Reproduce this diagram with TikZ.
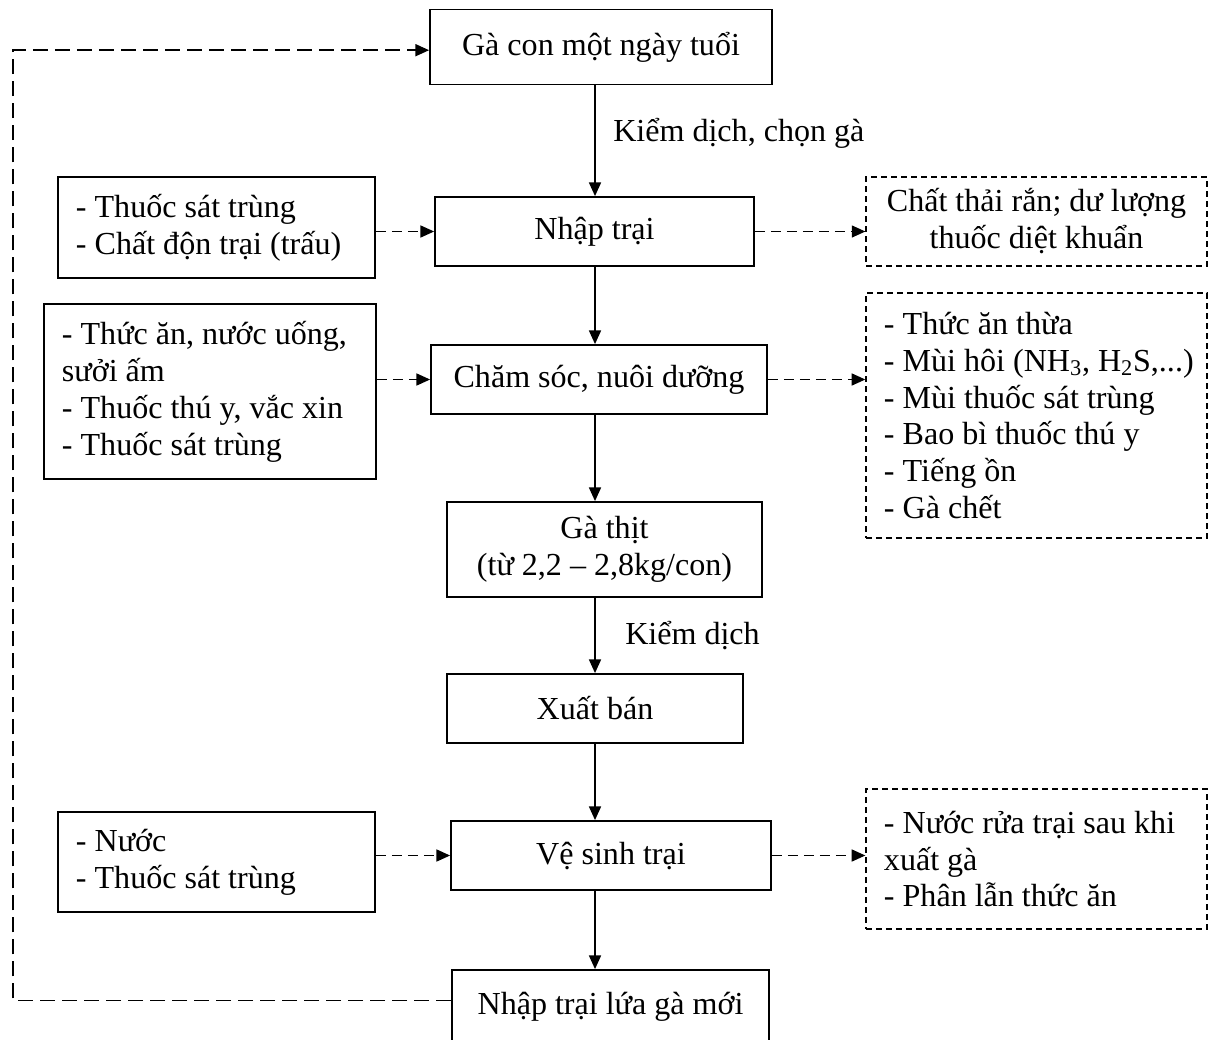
\documentclass[tikz,border=0pt]{standalone}
\usepackage{fontspec}
\setmainfont{Liberation Serif}
\usetikzlibrary{arrows.meta}

\begin{document}
\begin{tikzpicture}[x=0.025cm,y=-0.025cm,
  font=\fontsize{22.8}{26.3}\selectfont,
  box/.style 2 args={draw,line width=1.3pt,minimum width=#1*0.025cm,minimum height=#2*0.025cm,inner sep=0pt,align=center},
  listbox/.style 2 args={draw,line width=1.3pt,text width=#1,inner xsep=0.45cm,inner ysep=0pt,minimum height=#2*0.025cm,align=flush left},
  outbox/.style={line width=0.9pt,dash pattern=on 0.15cm off 0.1cm},
  flow/.style={line width=1pt,-{Triangle[length=0.34cm,width=0.3cm]}},
  dflow/.style={flow,dash pattern=on 0.25cm off 0.15cm}]
\useasboundingbox (0,0) rectangle (1216,1039);

\node[box={342}{75}] (ga) at (601,47) {Gà con một ngày tuổi};
\node[box={319}{69}] (nhap) at (594.5,231.5) {Nhập trại};
\node[box={336}{69}] (cham) at (599,379.5) {Chăm sóc, nuôi dưỡng};
\node[box={315}{95}] (thit) at (604.5,549.5) {Gà thịt\\(từ 2,2 – 2,8kg/con)};
\node[box={296}{69}] (xuat) at (595,708.5) {Xuất bán};
\node[box={320}{69}] (vesinh) at (611,855.5) {Vệ sinh trại};
\node[box={317}{73}] (moi) at (610.5,1006.5) {Nhập trại lứa gà mới};

\node[listbox={7.025cm}{101}] (vaoA) at (216.5,227.5) {- Thuốc sát trùng\\\mbox{- Chất độn trại (trấu)}};
\node[listbox={7.4cm}{175}] (vaoB) at (210,391.5) {\mbox{- Thức ăn, nước uống,}\\sưởi ấm\\\mbox{- Thuốc thú y, vắc xin}\\- Thuốc sát trùng};
\node[listbox={7.025cm}{100}] (vaoC) at (216.5,862) {- Nước\\- Thuốc sát trùng};

\node[box={341}{89},outbox] (raA) at (1036.5,221.5) {Chất thải rắn; dư lượng\\thuốc diệt khuẩn};
\node[listbox={7.625cm}{245},outbox] (raB) at (1036.5,415.5) {- Thức ăn thừa\\\mbox{- Mùi hôi (NH\textsubscript{3}, H\textsubscript{2}S,...)}\\- Mùi thuốc sát trùng\\- Bao bì thuốc thú y\\- Tiếng ồn\\- Gà chết};
\node[listbox={7.625cm}{140},outbox] (raC) at (1036.5,859) {\mbox{- Nước rửa trại sau khi}\\xuất gà\\- Phân lẫn thức ăn};

\node[anchor=west,inner sep=0pt] (kd1) at (613,133) {Kiểm dịch, chọn gà};
\node[anchor=west,inner sep=0pt] (kd2) at (625,636) {Kiểm dịch};

\coordinate (truc) at (595,0);
\coordinate (vong) at (13,0);

\foreach \a/\b in {ga/nhap,nhap/cham,cham/thit,thit/xuat,xuat/vesinh,vesinh/moi}
  \draw[flow] (\a.south -| truc) -- (\b.north -| truc);

\foreach \v/\g/\r in {vaoA/nhap/raA,vaoB/cham/raB,vaoC/vesinh/raC}
{
  \draw[dflow] (\v.east |- \g) -- (\g.west);
  \draw[dflow] (\g.east) -- (\r.west |- \g);
}

\draw[flow,dash pattern=on 0.375cm off 0.175cm] ([yshift=0.15cm]moi.west) -- ([yshift=0.15cm]moi.west -| vong) |- ([yshift=-0.08cm]ga.west);
\end{tikzpicture}
\end{document}
